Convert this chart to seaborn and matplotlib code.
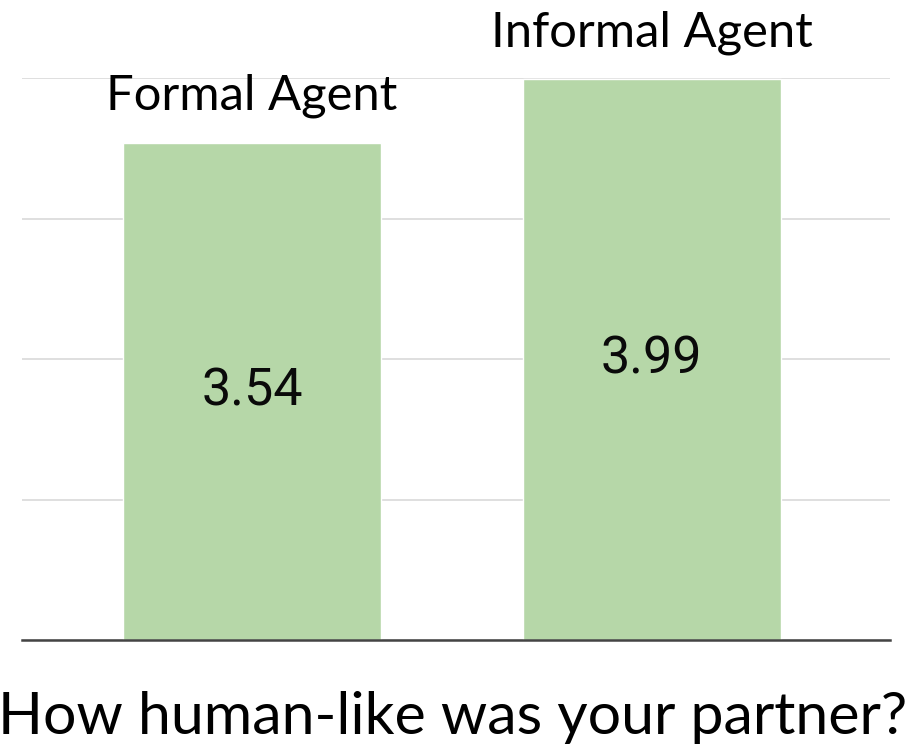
import matplotlib
matplotlib.use("Agg")
import matplotlib.pyplot as plt
import seaborn as sns
import pandas as pd

categories = ["Formal Agent", "Informal Agent"]
values = [3.54, 3.99]
title = "How human-like was your partner?"

sns.set_theme(style="white")
plt.rcParams['font.family'] = ['Lato', 'DejaVu Sans']

df = pd.DataFrame({"agent": categories, "score": values})

fig = plt.figure(figsize=(9.12, 7.5), dpi=100)
ax = fig.add_axes([22/912, 110/750, 868/912, 562/750])

sns.barplot(data=df, x="agent", y="score", color="#b6d7a8", width=0.646,
            saturation=1, ax=ax, zorder=3)

ax.set_ylim(0, 4)
ax.set_xlim(-0.576, 1.597)
ax.set_yticks([0, 1, 2, 3, 4])
ax.yaxis.grid(True, color="#d9d9d9", linewidth=1.2, zorder=0)
ax.set_axisbelow(True)
ax.tick_params(left=False, bottom=False, labelleft=False, labelbottom=False)
for s in ["left", "right", "top"]:
    ax.spines[s].set_visible(False)
ax.spines["bottom"].set_color("#444444")
ax.spines["bottom"].set_linewidth(1.8)
ax.spines["bottom"].set_zorder(5)
ax.set_xlabel("")
ax.set_ylabel("")

for i, (c, v) in enumerate(zip(categories, values)):
    ax.text(i, v / 2, f"{v:.2f}", ha="center", va="center", fontsize=37.5,
            family=["Roboto", "DejaVu Sans"], color="#0a0a0a", zorder=6)
    ax.annotate(c, xy=(i, v), xytext=(0, 47), textcoords="offset pixels",
                ha="center", va="center", fontsize=35.3, color="black",
                annotation_clip=False)

fig.text(453/912, 1 - 717/750, title, ha="center", va="center", fontsize=42.5,
         color="black")

fig.savefig("out.png", dpi=100)
